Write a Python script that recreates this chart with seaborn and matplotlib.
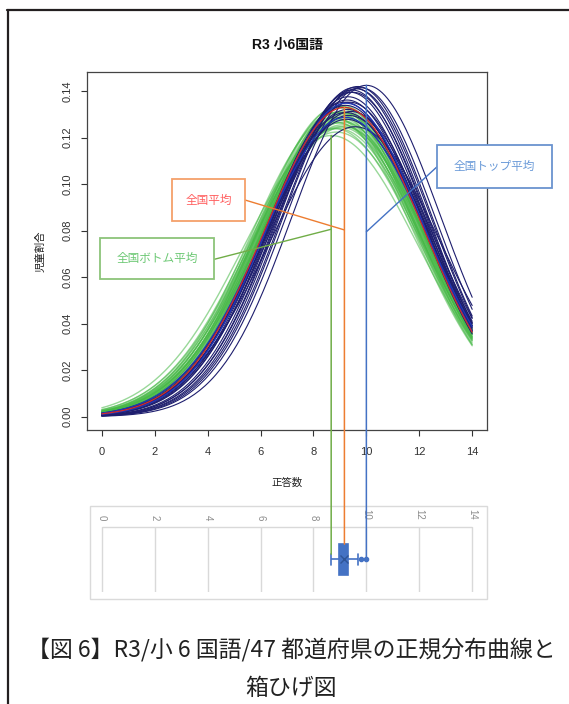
import numpy as np
import pandas as pd
import matplotlib
matplotlib.use('Agg')
import matplotlib.pyplot as plt
import seaborn as sns
from matplotlib.patches import Rectangle, ConnectionPatch
from matplotlib.lines import Line2D

pref_means = [8.67, 8.74, 8.79, 8.82, 8.85, 8.87, 8.89, 8.91, 8.92, 8.93, 8.94, 8.95,
              8.97, 8.99, 9.01, 9.03, 9.05, 9.07, 9.08, 9.09, 9.10, 9.11, 9.12, 9.13,
              9.14, 9.16, 9.18, 9.20, 9.21, 9.22, 9.23, 9.25, 9.27, 9.29, 9.31, 9.33,
              9.36, 9.39, 9.42, 9.45, 9.49, 9.53, 9.57, 9.62, 9.67, 9.78, 10.00]
pref_sds = [3.30, 3.10, 3.22, 3.05, 3.15, 3.26, 3.00, 3.12, 3.22, 3.05, 3.16, 2.99,
            3.10, 3.20, 3.04, 3.13, 2.99, 3.18, 3.08, 2.98, 3.15, 3.05, 3.10, 3.00,
            3.20, 3.06, 2.95, 3.10, 2.98, 3.05, 2.96, 3.12, 2.93, 3.02, 2.90, 3.08,
            2.95, 2.86, 3.04, 2.84, 2.86, 2.82, 3.20, 2.83, 2.81, 2.82, 2.80]
pref_group = ['bottom'] * 26 + ['top', 'blue', 'top', 'top', 'blue', 'top', 'top',
                                'top', 'top', 'top', 'top', 'top', 'top', 'top',
                                'top', 'top', 'top', 'top', 'top', 'top', 'top']

national_mean = 9.17
national_sd = 3.00

x_ticks = [0, 2, 4, 6, 8, 10, 12, 14]
y_ticks = [0.00, 0.02, 0.04, 0.06, 0.08, 0.10, 0.12, 0.14]

title = 'R3 小6国語'
x_label = '正答数'
y_label = '児童割合'
caption1 = '【図 6】R3/小 6 国語/47 都道府県の正規分布曲線と'
caption2 = '箱ひげ図'


def npdf(x, m, s):
    return np.exp(-(x - m) ** 2 / (2 * s * s)) / (s * np.sqrt(2 * np.pi))


xs = np.linspace(0, 14, 141)
rows = []
for i, (m, s, g) in enumerate(zip(pref_means, pref_sds, pref_group)):
    for x in xs:
        rows.append((i, g, x, npdf(x, m, s)))
curves = pd.DataFrame(rows, columns=['pref', 'grp', 'x', 'y'])
nat = pd.DataFrame({'x': xs, 'y': npdf(xs, national_mean, national_sd)})

sns.set_theme(style='white')
plt.rcParams['font.family'] = ['Liberation Sans', 'Noto Sans CJK JP', 'DejaVu Sans']

W, H = 569, 704
fig = plt.figure(figsize=(W / 100, H / 100), dpi=100)


def fx(px):
    return px / W


def fy(py):
    return 1 - py / H


# main plot (R style)
ax = fig.add_axes([fx(87), fy(430), 400 / W, 358 / H])
sns.lineplot(data=curves[curves.grp == 'bottom'], x='x', y='y', units='pref',
             estimator=None, color='#45B845', alpha=0.55, lw=1.0, ax=ax)
sns.lineplot(data=curves[curves.grp == 'top'], x='x', y='y', units='pref',
             estimator=None, color='#1E1E6E', lw=0.8, ax=ax)
sns.lineplot(data=curves[curves.grp == 'blue'], x='x', y='y', units='pref',
             estimator=None, color='#2036B8', lw=0.9, ax=ax)
sns.lineplot(data=nat, x='x', y='y', color='#D42A2A', lw=0.9, ax=ax)

ax.set_xlim(-0.56, 14.56)
ax.set_ylim(-0.0057, 0.1482)
ax.set_xticks(x_ticks)
ax.set_yticks(y_ticks)
ax.set_xticklabels([str(t) for t in x_ticks])
ax.set_yticklabels([f'{t:.2f}' for t in y_ticks], rotation=90, va='center')
ax.tick_params(axis='both', which='both', direction='out', length=4.3, width=0.8,
               color='#333333', labelsize=8, labelcolor='#333333', pad=6,
               bottom=True, left=True)
ax.tick_params(axis='x', pad=8)
for sp in ax.spines.values():
    sp.set_color('#444444')
    sp.set_linewidth(0.9)
ax.set_xlabel(x_label, fontsize=7.5, labelpad=15, color='#222222')
ax.set_ylabel(y_label, fontsize=7.5, labelpad=12, color='#222222')
fig.text(fx(287), fy(45), title, ha='center', va='center', fontsize=10,
         fontweight='bold', color='#111111')

# box plot panel (Excel style)
axb = fig.add_axes([fx(87), fy(591.7), 400 / W, 64.7 / H])
sns.boxplot(x=pref_means, ax=axb, color='#4472C4', saturation=1, width=0.47,
            whis=1.2, showmeans=True, linecolor='#4472C4', linewidth=1.2,
            capwidths=0.16,
            meanprops=dict(marker='x', markeredgecolor='#2F5597', markersize=6),
            flierprops=dict(marker='o', markerfacecolor='#4472C4',
                            markeredgecolor='#4472C4', markersize=3),
            medianprops=dict(color='#4472C4'))
axb.set_xlim(-0.56, 14.56)
axb.set_ylim(0.5, -0.5)
axb.set_yticks([])
axb.set_xticks(x_ticks)
axb.xaxis.set_ticks_position('top')
axb.set_xticklabels([str(t) for t in x_ticks], rotation=-90)
axb.tick_params(axis='x', length=0, pad=5, labelsize=7, labelcolor='#8C8C8C',
                top=True, bottom=False, labeltop=True, labelbottom=False)
axb.grid(axis='x', color='#D9D9D9', lw=1)
axb.set_axisbelow(True)
for sp in axb.spines.values():
    sp.set_visible(False)
axb.hlines(-0.5, 0, 14, color='#D9D9D9', lw=1, clip_on=False)
axb.set_xlabel('')
axb.patch.set_alpha(0)
fig.add_artist(Rectangle((fx(90), fy(599)), 397 / W, 93.3 / H,
                         transform=fig.transFigure, fill=False,
                         edgecolor='#DADADA', lw=1))

# vertical guide lines from the curve peaks down to the box plot
bottom_mean, bottom_sd = pref_means[0], pref_sds[0]
top_mean, top_sd = pref_means[-1], pref_sds[-1]
guides = [
    (bottom_mean, npdf(bottom_mean, bottom_mean, bottom_sd), -0.08, '#70AD47'),
    (national_mean, npdf(national_mean, national_mean, national_sd), -0.235, '#ED7D31'),
    (top_mean, npdf(top_mean, top_mean, top_sd), 0.0, '#4472C4'),
]
for m, peak, yb, c in guides:
    fig.add_artist(ConnectionPatch(xyA=(m, peak), coordsA=ax.transData,
                                   xyB=(m, yb), coordsB=axb.transData,
                                   color=c, lw=1.1))

# callout boxes
callouts = [
    ('全国平均', (171.7, 179.3, 245, 221), '#F4A06A', '#FF5F5F',
     (245, 200), national_mean, 0.0803, '#ED7D31'),
    ('全国ボトム平均', (100, 237.7, 214.3, 279.3), '#8CC47A', '#6CC874',
     (214.3, 259.3), bottom_mean, 0.0806, '#70AD47'),
    ('全国トップ平均', (437.3, 145, 551.7, 187.7), '#6A93CF', '#6A9AD8',
     (437.3, 166.5), top_mean, 0.0795, '#4472C4'),
]
for txt, (x0, y0, x1, y1), ec, tc, (lx, ly), vx, vy, lc in callouts:
    fig.add_artist(ConnectionPatch(xyA=(fx(lx), fy(ly)), coordsA='figure fraction',
                                   xyB=(vx, vy), coordsB=ax.transData,
                                   color=lc, lw=1.0))
    fig.add_artist(Rectangle((fx(x0), fy(y1)), (x1 - x0) / W, (y1 - y0) / H,
                             transform=fig.transFigure, facecolor='white',
                             edgecolor=ec, lw=1.3))
    fig.text(fx((x0 + x1) / 2), fy((y0 + y1) / 2), txt, ha='center', va='center',
             fontsize=8.4, color=tc, family=['Noto Sans CJK JP'])

# outer page frame
fig.add_artist(Line2D([fx(8), fx(8)], [fy(9.7), 0], color='#231F20', lw=1.6,
                      transform=fig.transFigure))
fig.add_artist(Line2D([fx(7.2), 1], [fy(9.7), fy(9.7)], color='#231F20', lw=1.6,
                      transform=fig.transFigure))

# caption
fig.text(fx(291.5), fy(650), caption1, ha='center', va='center', fontsize=16.5,
         color='#222222', family=['Noto Sans CJK JP'])
fig.text(fx(291.5), fy(688), caption2, ha='center', va='center', fontsize=16.5,
         color='#222222', family=['Noto Sans CJK JP'])

fig.savefig('out.png', dpi=100, facecolor='white')
